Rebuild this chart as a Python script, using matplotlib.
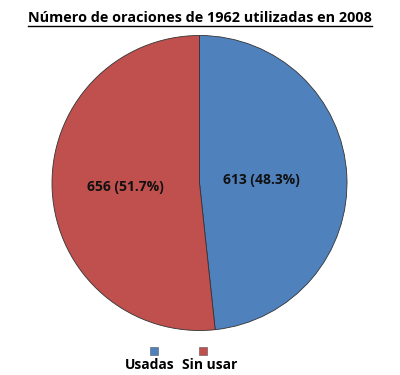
import matplotlib
matplotlib.use("Agg")
import matplotlib.pyplot as plt
import numpy as np
from matplotlib.patches import Rectangle
from matplotlib.lines import Line2D

title = "Número de oraciones de 1962 utilizadas en 2008"
categories = ["Usadas", "Sin usar"]
values = [613, 656]
percents = ["48.3%", "51.7%"]
colors = ["#4F81BD", "#C0504D"]

plt.rcParams['font.family'] = ['Open Sans', 'DejaVu Sans']

fig = plt.figure(figsize=(4, 3.75), dpi=100)
W, H = 400, 375
cx, cy, r = 199.5, 183, 147.5
ax = fig.add_axes([(cx - r) / W, (H - cy - r) / H, 2 * r / W, 2 * r / H])
wedges, _ = ax.pie(values, colors=colors, startangle=90, counterclock=False,
                   wedgeprops=dict(edgecolor="#333333", linewidth=0.6))
ax.set_xlim(-1, 1)
ax.set_ylim(-1, 1)
ax.set_aspect('equal')
ax.axis('off')

dists = [0.42, 0.5]
for w, v, p, d in zip(wedges, values, percents, dists):
    ang = np.deg2rad((w.theta1 + w.theta2) / 2)
    ax.text(d * np.cos(ang), d * np.sin(ang), f"{v} ({p})", ha='center', va='center',
            fontsize=10, fontweight='bold', color='#111111')

t = fig.text(0.5, 0.952, title, ha='center', va='center', fontsize=10.4, fontweight='bold')
fig.canvas.draw()
bb = t.get_window_extent(fig.canvas.get_renderer())
y_ul = (bb.y0 - 1) / H
fig.add_artist(Line2D([bb.x0 / W, bb.x1 / W], [y_ul, y_ul], color='black', linewidth=1.0,
                      transform=fig.transFigure))

# legend
sq_x = [154, 203]
lab_x = [150, 210]
sq = 7.5
for xs, xl, c, lab in zip(sq_x, lab_x, colors, categories):
    fig.add_artist(Rectangle(((xs - sq / 2) / W, (H - 351 - sq / 2) / H), sq / W, sq / H,
                             facecolor=c, edgecolor='#555555', linewidth=0.4,
                             transform=fig.transFigure))
    fig.text(xl / W, (H - 365) / H, lab, ha='center', va='center', fontsize=10,
             fontweight='bold')

fig.savefig("out.png", dpi=100, facecolor='white')
